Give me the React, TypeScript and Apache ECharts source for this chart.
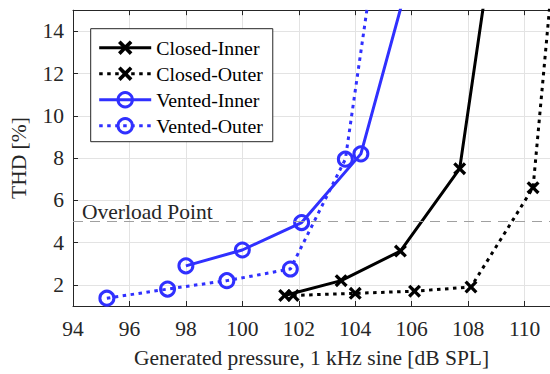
import React, { useEffect, useRef } from "react";
import * as echarts from "echarts";

const xTicks = [94, 96, 98, 100, 102, 104, 106, 108, 110];
const yTicks = [2, 4, 6, 8, 10, 12, 14];

const closedInnerX = [101.5, 103.5, 105.6, 107.7, 108.9];
const closedInnerY = [1.5, 2.2, 3.6, 7.5, 18.5];
const closedOuterX = [101.8, 104.0, 106.1, 108.1, 110.3, 111.2];
const closedOuterY = [1.5, 1.6, 1.7, 1.9, 6.6, 19.7];
const ventedInnerX = [98.0, 100.0, 102.1, 104.2, 106.0];
const ventedInnerY = [2.9, 3.65, 4.95, 8.2, 17];
const ventedOuterX = [95.2, 97.35, 99.45, 101.7, 103.65, 104.8];
const ventedOuterY = [1.37, 1.8, 2.2, 2.75, 7.95, 18.6];
const overloadLevel = 5;

const FONT = "'Liberation Serif', 'Times New Roman', serif";
const BLUE = "#3030ff";
const AXIS = "#262626";
const X_PATH =
  "path://M0,1.8 L1.8,0 L5,3.2 L8.2,0 L10,1.8 L6.8,5 L10,8.2 L8.2,10 L5,6.8 L1.8,10 L0,8.2 L3.2,5 Z";

const zip = (xs: number[], ys: number[]) => xs.map((x, i) => [x, ys[i]]);

export default function App() {
  const ref = useRef<HTMLDivElement>(null);
  useEffect(() => {
    if (!ref.current) return;
    const chart = echarts.init(ref.current, null, { renderer: "svg" });
    const dotted = [3.5, 4.5];
    const xSeries = (name: string, xs: number[], ys: number[], dashed: boolean) => ({
      name,
      type: "line",
      data: zip(xs, ys),
      symbol: X_PATH,
      symbolSize: 13,
      clip: true,
      lineStyle: { color: "#000", width: 3, type: dashed ? dotted : "solid" },
      itemStyle: { color: "#000" },
      emphasis: { disabled: true },
    });
    const oSeries = (name: string, xs: number[], ys: number[], dashed: boolean) => ({
      name,
      type: "line",
      data: zip(xs, ys),
      symbol: "circle",
      symbolSize: 14,
      clip: true,
      lineStyle: { color: BLUE, width: 3, type: dashed ? dotted : "solid" },
      itemStyle: { color: "transparent", borderColor: BLUE, borderWidth: 3 },
      emphasis: { disabled: true },
    });
    const ci: any = xSeries("Closed-Inner", closedInnerX, closedInnerY, false);
    ci.markLine = {
      silent: true,
      symbol: "none",
      animation: false,
      lineStyle: { color: "#a0a0a0", width: 1.2, type: [10, 7] },
      label: {
        show: true,
        position: "insideStartTop",
        formatter: "Overload Point",
        fontFamily: FONT,
        fontSize: 21.5,
        color: AXIS,
        distance: [9, -2],
      },
      data: [{ yAxis: overloadLevel }],
    };
    const legendItem = (name: string, color: string, dashed: boolean, hollow: boolean) => ({
      name,
      lineStyle: { color, width: 3, type: dashed ? dotted : "solid" },
      itemStyle: hollow
        ? { color: "transparent", borderColor: color, borderWidth: 3 }
        : { color, borderWidth: 0 },
    });
    chart.setOption({
      animation: false,
      backgroundColor: "#fff",
      grid: { left: 71.7, top: 10.2, right: 0, bottom: 63 },
      xAxis: [
        {
          type: "value",
          min: 94,
          max: 110.9,
          name: "Generated pressure, 1 kHz sine [dB SPL]",
          nameLocation: "middle",
          nameGap: 41,
          nameTextStyle: { fontFamily: FONT, fontSize: 21.5, color: AXIS },
          axisLine: { show: true, lineStyle: { color: AXIS, width: 1 } },
          axisTick: { show: true, inside: true, length: 5, customValues: xTicks, lineStyle: { color: AXIS } },
          axisLabel: { customValues: xTicks, fontFamily: FONT, fontSize: 21.5, color: AXIS, margin: 12 },
          splitLine: { show: true, lineStyle: { color: "#e3e3e3", width: 1 } },
        },
        {
          type: "value",
          position: "top",
          min: 94,
          max: 110.9,
          axisLine: { show: true, onZero: false, lineStyle: { color: AXIS, width: 1 } },
          axisTick: { show: true, inside: true, length: 5, customValues: xTicks, lineStyle: { color: AXIS } },
          axisLabel: { show: false },
          splitLine: { show: false },
        },
      ],
      yAxis: {
        type: "value",
        min: 1,
        max: 15,
        name: "THD [%]",
        nameLocation: "middle",
        nameGap: 43,
        nameTextStyle: { fontFamily: FONT, fontSize: 21.5, color: AXIS },
        axisLine: { show: true, onZero: false, lineStyle: { color: AXIS, width: 1 } },
        axisTick: { show: true, inside: true, length: 5, customValues: yTicks, lineStyle: { color: AXIS } },
        axisLabel: { customValues: yTicks, fontFamily: FONT, fontSize: 21.5, color: AXIS, margin: 9 },
        splitLine: { show: true, lineStyle: { color: "#e3e3e3", width: 1 } },
      },
      legend: {
        data: [
          legendItem("Closed-Inner", "#000", false, false),
          legendItem("Closed-Outer", "#000", true, false),
          legendItem("Vented-Inner", BLUE, false, true),
          legendItem("Vented-Outer", BLUE, true, true),
        ],
        orient: "vertical",
        left: 90.7,
        top: 28.7,
        padding: [9, 10, 6, 7],
        itemWidth: 52,
        itemHeight: 18,
        itemGap: 6,
        backgroundColor: "#fff",
        borderColor: AXIS,
        borderWidth: 1,
        borderRadius: 0,
        textStyle: { fontFamily: FONT, fontSize: 19.8, color: "#000", lineHeight: 20 },
      },
      series: [
        ci,
        xSeries("Closed-Outer", closedOuterX, closedOuterY, true),
        oSeries("Vented-Inner", ventedInnerX, ventedInnerY, false),
        oSeries("Vented-Outer", ventedOuterX, ventedOuterY, true),
      ],
    });
    return () => chart.dispose();
  }, []);
  return <div ref={ref} style={{ width: 550, height: 374, position: "absolute", left: 0, top: 0 }} />;
}
